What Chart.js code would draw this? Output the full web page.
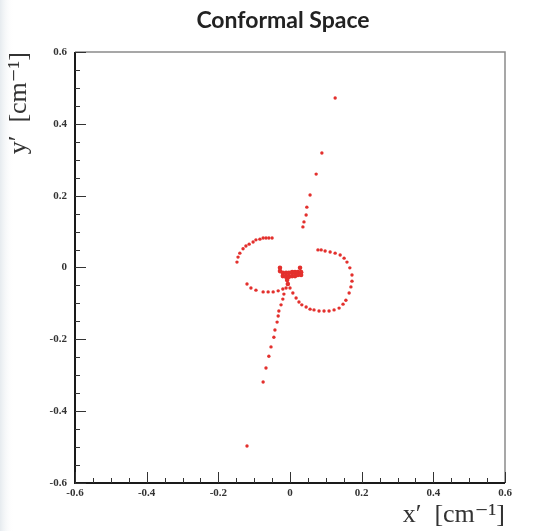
<!DOCTYPE html>
<html>
<head>
<meta charset="utf-8">
<script src="https://cdn.jsdelivr.net/npm/chart.js@4/dist/chart.umd.min.js"></script>
<style>
    html, body { margin: 0; padding: 0; background: #fff; }
    #wrap { width: 552px; height: 531px; }
</style>
</head>
<body>
<div id="wrap"><canvas id="conformal" width="552" height="531"></canvas></div>
<script>
// Hits in conformal space, x' / y' in cm^-1
const upperTrack = [
    [0.126, 0.472], [0.089, 0.319], [0.073, 0.260], [0.056, 0.202],
    [0.047, 0.168], [0.045, 0.146], [0.039, 0.127], [0.036, 0.113]
];
const leftLoop = [
    [-0.050, 0.082], [-0.059, 0.082], [-0.067, 0.082], [-0.075, 0.082],
    [-0.084, 0.079], [-0.095, 0.077], [-0.103, 0.071], [-0.114, 0.065],
    [-0.123, 0.060], [-0.131, 0.052], [-0.140, 0.040], [-0.145, 0.029],
    [-0.148, 0.015],
    [-0.120, -0.046], [-0.109, -0.057], [-0.095, -0.063], [-0.075, -0.068],
    [-0.061, -0.068], [-0.047, -0.068], [-0.033, -0.065], [-0.020, -0.060]
];
const centreBlob = [
    [-0.028, -0.001], [-0.028, -0.010], [-0.020, -0.015], [-0.011, -0.015],
    [-0.003, -0.015], [0.006, -0.013], [0.014, -0.013], [0.022, -0.013],
    [0.031, -0.013], [-0.020, -0.024], [-0.011, -0.026], [-0.003, -0.026],
    [0.006, -0.024], [0.014, -0.024], [0.022, -0.021], [0.031, -0.021],
    [0.028, -0.001], [-0.008, -0.035], [-0.006, -0.046]
];
const lowerTrack = [
    [-0.011, -0.057], [-0.017, -0.074], [-0.020, -0.088], [-0.025, -0.104],
    [-0.031, -0.121], [-0.033, -0.135], [-0.036, -0.152], [-0.042, -0.174],
    [-0.045, -0.194], [-0.053, -0.221], [-0.059, -0.247], [-0.067, -0.280],
    [-0.075, -0.319], [-0.120, -0.497]
];
const rightLoop = [
    [0.000, -0.057], [0.008, -0.071], [0.017, -0.085], [0.025, -0.096],
    [0.033, -0.104], [0.045, -0.110], [0.056, -0.116], [0.067, -0.118],
    [0.081, -0.121], [0.095, -0.121], [0.109, -0.121], [0.123, -0.118],
    [0.137, -0.113], [0.148, -0.102], [0.156, -0.091], [0.165, -0.071],
    [0.170, -0.054], [0.173, -0.038], [0.173, -0.021], [0.167, -0.001],
    [0.159, 0.015], [0.151, 0.026], [0.140, 0.035], [0.126, 0.040],
    [0.112, 0.043], [0.098, 0.046], [0.087, 0.049], [0.078, 0.049]
];
const axisMin = -0.6;
const axisMax = 0.6;
const majorStep = 0.2;
const minorStep = 0.05;
const chartTitle = 'Conformal Space';

const toPoints = arr => arr.map(p => ({ x: p[0], y: p[1] }));

function fmtTick(v) {
    const r = Math.round(v * 10) / 10;
    if (Math.abs(r) < 1e-9) return '0';
    return r.toFixed(1);
}

// white page with the faint grey strip on the left, plus the title
const pageBackground = {
    id: 'pageBackground',
    beforeDraw(chart) {
        const ctx = chart.ctx;
        ctx.save();
        ctx.fillStyle = '#ffffff';
        ctx.fillRect(0, 0, chart.width, chart.height);
        const g = ctx.createLinearGradient(0, 0, 14, 0);
        g.addColorStop(0, '#e6ebef');
        g.addColorStop(1, 'rgba(255,255,255,0)');
        ctx.fillStyle = g;
        ctx.fillRect(0, 0, 14, chart.height);

        ctx.fillStyle = '#222';
        ctx.font = 'bold 23px Lato, "Open Sans", sans-serif';
        ctx.textAlign = 'center';
        ctx.textBaseline = 'middle';
        ctx.fillText(chartTitle, 283, 21);
        ctx.restore();
    }
};

// ROOT-like frame with ticks pointing inwards
const rootFrame = {
    id: 'rootFrame',
    afterDatasetsDraw(chart) {
        const { ctx, chartArea: a, scales } = chart;
        ctx.save();
        ctx.strokeStyle = '#8a8a8a';
        ctx.lineWidth = 1.5;
        ctx.beginPath();
        ctx.moveTo(a.left, a.top);
        ctx.lineTo(a.right, a.top);
        ctx.lineTo(a.right, a.bottom);
        ctx.stroke();

        ctx.strokeStyle = '#1a1a1a';
        ctx.lineWidth = 2;
        ctx.beginPath();
        ctx.moveTo(a.left, a.top);
        ctx.lineTo(a.left, a.bottom);
        ctx.lineTo(a.right, a.bottom);
        ctx.stroke();

        ctx.lineWidth = 1;
        ctx.strokeStyle = '#333';
        const n = Math.round((axisMax - axisMin) / minorStep);
        for (let i = 0; i <= n; i++) {
            const v = axisMin + i * minorStep;
            const major = i % Math.round(majorStep / minorStep) === 0;
            const len = major ? 11 : 5;
            const px = Math.round(scales.x.getPixelForValue(v)) + 0.5;
            const py = Math.round(scales.y.getPixelForValue(v)) + 0.5;
            ctx.beginPath();
            ctx.moveTo(px, a.bottom);
            ctx.lineTo(px, a.bottom - len);
            ctx.moveTo(a.left, py);
            ctx.lineTo(a.left + len, py);
            ctx.stroke();
        }
        ctx.restore();
    }
};

const hitStyle = {
    pointRadius: 1.7,
    pointHoverRadius: 1.7,
    pointBorderWidth: 0,
    backgroundColor: '#e3302d',
    borderColor: '#e3302d'
};

const tickFont = { family: '"Liberation Serif", "DejaVu Serif", serif', size: 11, weight: 'bold' };
const titleFont = { family: '"Liberation Serif", "DejaVu Serif", serif', size: 26 };

document.addEventListener('DOMContentLoaded', () => {
    const ctx = document.getElementById('conformal').getContext('2d');
    new Chart(ctx, {
        type: 'scatter',
        data: {
            datasets: [
                Object.assign({ label: 'upper', data: toPoints(upperTrack) }, hitStyle),
                Object.assign({ label: 'left', data: toPoints(leftLoop) }, hitStyle),
                Object.assign({ label: 'centre', data: toPoints(centreBlob) }, hitStyle, { pointRadius: 2.3 }),
                Object.assign({ label: 'lower', data: toPoints(lowerTrack) }, hitStyle),
                Object.assign({ label: 'right', data: toPoints(rightLoop) }, hitStyle)
            ]
        },
        options: {
            responsive: false,
            animation: false,
            layout: { padding: { left: 0, right: 47, top: 52, bottom: 0 } },
            plugins: {
                legend: { display: false },
                tooltip: { enabled: false },
                title: { display: false }
            },
            scales: {
                x: {
                    type: 'linear',
                    min: axisMin,
                    max: axisMax,
                    afterFit(scale) { scale.height = 48; },
                    border: { display: false },
                    grid: { display: false },
                    ticks: {
                        stepSize: majorStep,
                        padding: -4,
                        color: '#333',
                        font: tickFont,
                        maxRotation: 0,
                        callback: v => fmtTick(v)
                    },
                    title: {
                        display: true,
                        text: 'x′  [cm⁻¹]',
                        align: 'end',
                        color: '#333',
                        font: titleFont,
                        padding: { top: 0, bottom: 0 }
                    }
                },
                y: {
                    type: 'linear',
                    min: axisMin,
                    max: axisMax,
                    afterFit(scale) { scale.width = 75; },
                    border: { display: false },
                    grid: { display: false },
                    ticks: {
                        stepSize: majorStep,
                        padding: 0,
                        color: '#333',
                        font: tickFont,
                        callback: v => fmtTick(v)
                    },
                    title: {
                        display: true,
                        text: 'y′  [cm⁻¹]',
                        align: 'end',
                        color: '#333',
                        font: titleFont,
                        padding: { top: 4, bottom: 0 }
                    }
                }
            }
        },
        plugins: [pageBackground, rootFrame]
    });
});
</script>
</body>
</html>
